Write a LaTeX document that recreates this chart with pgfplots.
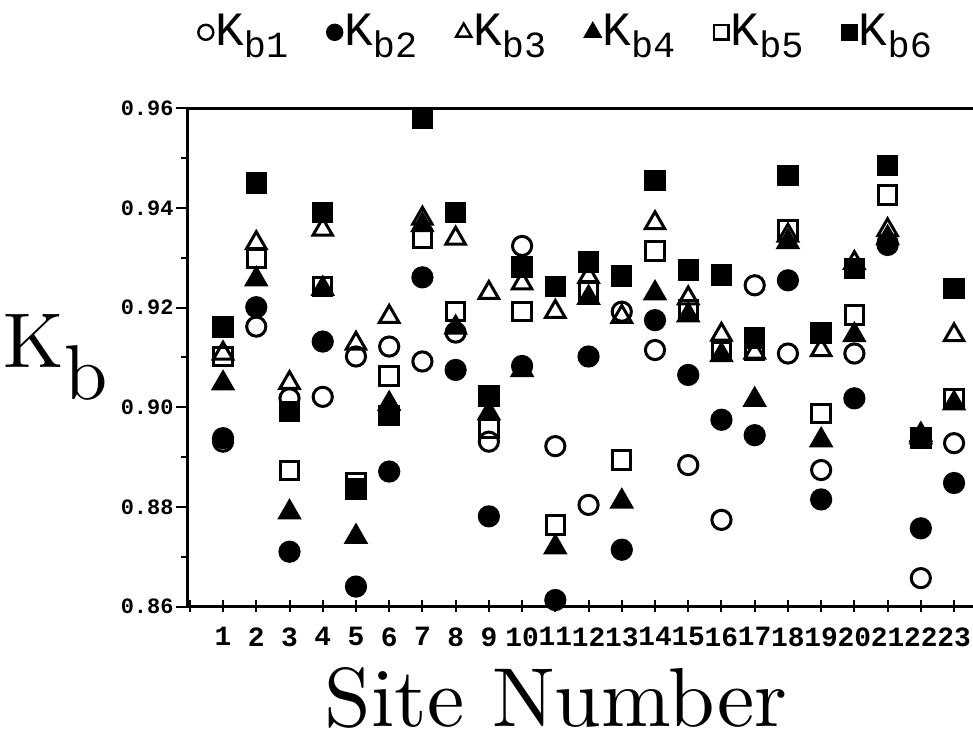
\documentclass[border=0pt]{standalone}
\usepackage{fontspec}
\setmonofont{Liberation Mono}
\newfontfamily\lmten{lmroman10-regular.otf}
\usepackage{pgfplots}
\usepackage{pgfplotstable}
\pgfplotsset{compat=1.18}

% Kb values, one row per site
\pgfplotstableread{
site k1     k2     k3     k4     k5     k6
1    0.8931 0.8938 0.9108 0.9048 0.9102 0.9161
2    0.9162 0.9201 0.9330 0.9257 0.9299 0.9450
3    0.9018 0.8710 0.9049 0.8789 0.8873 0.8991
4    0.9021 0.9132 0.9357 0.9238 0.9242 0.9391
5    0.9102 0.8640 0.9128 0.8740 0.8848 0.8836
6    0.9122 0.8871 0.9182 0.9007 0.9063 0.8983
7    0.9092 0.9261 0.9379 0.9366 0.9339 0.9580
8    0.9150 0.9075 0.9339 0.9160 0.9192 0.9391
9    0.8931 0.8781 0.9230 0.8988 0.8958 0.9023
10   0.9324 0.9083 0.9249 0.9075 0.9192 0.9282
11   0.8922 0.8613 0.9192 0.8719 0.8764 0.9242
12   0.8804 0.9102 0.9262 0.9220 0.9235 0.9292
13   0.9192 0.8714 0.9182 0.8811 0.8894 0.9264
14   0.9115 0.9175 0.9370 0.9229 0.9314 0.9455
15   0.8884 0.9065 0.9219 0.9185 0.9195 0.9276
16   0.8774 0.8975 0.9146 0.9105 0.9112 0.9266
17   0.9245 0.8944 0.9110 0.9015 0.9115 0.9139
18   0.9108 0.9255 0.9345 0.9332 0.9356 0.9466
19   0.8874 0.8815 0.9115 0.8934 0.8988 0.9149
20   0.9108 0.9018 0.9290 0.9145 0.9185 0.9279
21   0.9330 0.9326 0.9356 0.9340 0.9426 0.9486
22   0.8657 0.8757 0.8940 0.8945 0.8938 0.8938
23   0.8928 0.8848 0.9145 0.9008 0.9018 0.9239
}\kbdata

\newcommand{\kb}[1]{K\raisebox{-6bp}{\fontsize{18.5}{18.5}\selectfont b#1}}

\pgfplotsset{
  kbm/.style={only marks, black, line width=1.5bp,
    legend image code/.code={\draw[##1, line width=1.2bp, every mark/.append style={scale=0.78}] plot coordinates {(0bp,-0.5bp)};}},
}

\begin{document}
\begin{tikzpicture}
\useasboundingbox (-93.75bp,-70.75bp) rectangle (392.75bp,303.25bp);
\begin{axis}[
    scale only axis,
    width=392.75bp, height=249bp,
    xmin=-0.07, xmax=23.57,
    ymin=0.86, ymax=0.96,
    clip=false,
    axis lines=left,
    axis line style={-, line width=1.4bp},
    xtick={0,...,23},
    xticklabels={{},1,2,3,4,5,6,7,8,9,10,11,12,13,14,15,16,17,18,19,20,21,22,23},
    ytick={0.86,0.88,0.90,0.92,0.94,0.96},
    minor y tick num=1,
    tick align=outside,
    major tick length=5.5bp, minor tick length=3bp,
    tick style={black, line width=1bp},
    xtick style={yshift=3bp},
    scaled y ticks=false,
    /pgf/number format/assume math mode=true,
    yticklabel style={font=\ttfamily\bfseries\fontsize{11}{11}\selectfont, xshift=2bp,
      /pgf/number format/fixed, /pgf/number format/fixed zerofill,
      /pgf/number format/precision=2},
    xticklabel style={font=\ttfamily\bfseries\fontsize{14}{14}\selectfont, yshift=-1.5bp},
    xlabel={\lmten\fontsize{42}{42}\selectfont Site Number},
    ylabel={\lmten\fontsize{39}{39}\selectfont K\raisebox{-0.42em}{b}},
    every axis x label/.style={at={(axis description cs:0.5,0)}, anchor=base, inner sep=0pt, yshift=-60bp, xshift=-12bp},
    every axis y label/.style={at={(axis description cs:0,0.5)}, anchor=center, xshift=-66bp},
    legend columns=6,
    legend style={draw=none, fill=none, at={(0.482,1.155)}, anchor=center,
      font=\ttfamily\fontsize{24}{24}\selectfont,
      nodes={inner sep=1bp},
      /tikz/every even column/.append style={column sep=18.5bp}},
]
\addplot[kbm, mark=o, mark size=4.8bp] table[x=site, y=k1] {\kbdata};
\addlegendentry{\kb{1}}
\addplot[kbm, mark=*, mark size=4.8bp] table[x=site, y=k2] {\kbdata};
\addlegendentry{\kb{2}}
\addplot[kbm, mark=triangle, mark size=5.6bp] table[x=site, y=k3] {\kbdata};
\addlegendentry{\kb{3}}
\addplot[kbm, mark=triangle*, mark size=5.6bp] table[x=site, y=k4] {\kbdata};
\addlegendentry{\kb{4}}
\addplot[kbm, mark=square, mark size=4.6bp] table[x=site, y=k5] {\kbdata};
\addlegendentry{\kb{5}}
\addplot[kbm, mark=square*, mark size=4.6bp] table[x=site, y=k6] {\kbdata};
\addlegendentry{\kb{6}}
\draw[line width=1.4bp] (rel axis cs:0,1) -- (rel axis cs:1,1);
\end{axis}
\end{tikzpicture}
\end{document}
